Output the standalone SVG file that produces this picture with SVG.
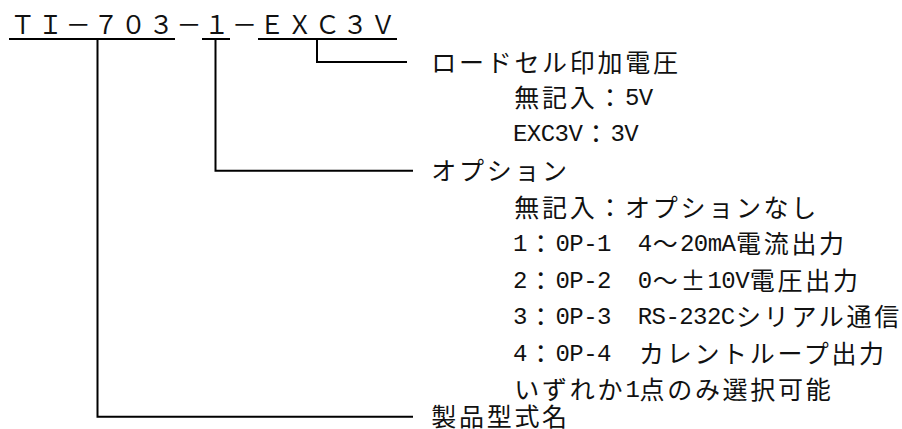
<svg xmlns="http://www.w3.org/2000/svg" width="902" height="429" viewBox="0 0 902 429">
<style>
text{fill:#111}
.j{font-family:"Noto Sans CJK JP","Noto Sans CJK SC",sans-serif;font-size:25px;letter-spacing:2.7px}
.h{font-family:"Liberation Mono","DejaVu Sans Mono",monospace;font-size:24px;letter-spacing:-0.55px}
.ln{fill:none;stroke:#000;stroke-width:2}
</style>
<g id="code">
<text class="j" x="10.3" y="34">ＴＩ－７０３－１－ＥＸＣ３Ｖ</text>
<line class="ln" x1="9" y1="39" x2="175" y2="39"/>
<line class="ln" x1="202" y1="39" x2="230" y2="39"/>
<line class="ln" x1="258" y1="39" x2="397" y2="39"/>
</g>
<g id="connectors">
<path class="ln" d="M317,39 V62 H407"/>
<path class="ln" d="M215.5,39 V170.7 H413"/>
<path class="ln" d="M97.5,39 V416.7 H413"/>
</g>
<g id="voltage">
<text class="j" x="431.3" y="71.5">ロードセル印加電圧</text>
<text><tspan class="j" x="514.3" y="106.5">無記入：</tspan><tspan class="h" x="625" y="105">5V</tspan></text>
<text><tspan class="h" x="513" y="141">EXC3V</tspan><tspan class="j" x="583.6" y="142.5">：</tspan><tspan class="h" x="610.5" y="141">3V</tspan></text>
</g>
<g id="option">
<text class="j" x="431.3" y="179.5">オプション</text>
<text class="j" x="514.3" y="216.5">無記入：オプションなし</text>
<text><tspan class="h" x="513" y="251">1</tspan><tspan class="j" x="528.2" y="252.5">：</tspan><tspan class="h" x="555.5" y="251">0P-1</tspan><tspan class="h" x="637.7" y="251">4</tspan><tspan class="j" x="652.8" y="252.5">～</tspan><tspan class="h" x="680" y="251">20mA</tspan><tspan class="j" x="736" y="252.5">電流出力</tspan></text>
<text><tspan class="h" x="513" y="288">2</tspan><tspan class="j" x="528.2" y="289.5">：</tspan><tspan class="h" x="555.5" y="288">0P-2</tspan><tspan class="h" x="637.7" y="288">0</tspan><tspan class="j" x="652.8" y="289.5">～</tspan><tspan class="h" x="707.5" y="288">10V</tspan><tspan class="j" x="749.8" y="289.5">電圧出力</tspan></text>
<text class="j" x="693" y="289.5" text-anchor="middle" style="letter-spacing:0">±</text>
<text><tspan class="h" x="513" y="324">3</tspan><tspan class="j" x="528.2" y="325.5">：</tspan><tspan class="h" x="555.5" y="324">0P-3</tspan><tspan class="h" x="637.7" y="324">RS-232C</tspan><tspan class="j" x="736" y="325.5">シリアル通信</tspan></text>
<text><tspan class="h" x="513" y="361">4</tspan><tspan class="j" x="528.2" y="362.5">：</tspan><tspan class="h" x="555.5" y="361">0P-4</tspan><tspan class="j" x="639" y="362.5">カレントループ出力</tspan></text>
<text><tspan class="j" x="514.3" y="398.5">いずれか</tspan><tspan class="h" x="625.5" y="397">1</tspan><tspan class="j" x="639.5" y="398.5">点のみ選択可能</tspan></text>
</g>
<g id="model">
<text class="j" x="431.3" y="425.5">製品型式名</text>
</g>
</svg>
